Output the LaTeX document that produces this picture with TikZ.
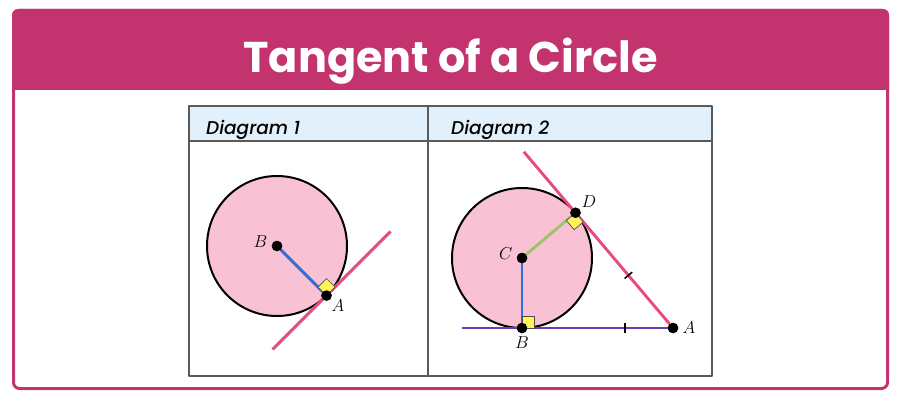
\documentclass[tikz,border=0pt]{standalone}
\usepackage{fontspec}
\usetikzlibrary{positioning,calc}

\newfontfamily\titlefont{Poppins}
\newfontfamily\headfont[ItalicFont={Poppins Medium Italic}]{Poppins}

\definecolor{framepink}{HTML}{C3346F}
\definecolor{tanpink}{HTML}{E84A7F}
\definecolor{discpink}{HTML}{F9C1D4}
\definecolor{radblue}{HTML}{2E6FD8}
\definecolor{radgreen}{HTML}{9DC46B}
\definecolor{basepurple}{HTML}{6A3DB5}
\definecolor{marker}{HTML}{FFF35C}
\definecolor{headblue}{HTML}{E1F0FB}
\definecolor{gridgray}{HTML}{5A5A5A}

\begin{document}
\begin{tikzpicture}
  [x=1pt, y=-1pt,
   line join=round,
   dot/.style={circle, fill=black, inner sep=0pt, minimum size=10.5pt},
   lbl/.style={inner sep=0pt, font=\fontsize{17}{19}\selectfont},
   head/.style={inner sep=0pt, font=\headfont\itshape\fontsize{18.5}{20}\selectfont},
   disc/.style={fill=discpink, draw=black, line width=2pt},
   tangent/.style={draw=tanpink, line width=2.9pt},
   radius/.style={line width=2.9pt},
   rightangle/.style={fill=marker, draw=black!70, line width=0.7pt},
   tick/.style={draw=black, line width=1.5pt}
  ]
  \useasboundingbox (0,0) rectangle (901,401);

  % frame and title
  \fill[framepink] (12,90) [rounded corners=6pt] -- (12,9) -- (889,9)
    [sharp corners] -- (889,90) -- cycle;
  \draw[framepink, line width=3pt, rounded corners=6pt] (13.5,10.5) rectangle (887.5,388.5);
  \node[text=white, anchor=base, inner sep=0pt,
        font=\titlefont\bfseries\fontsize{43}{45}\selectfont]
    (title) at (450.5,73) {Tangent of a Circle};

  % table
  \fill[headblue] (189,106) rectangle (712,141);
  \draw[gridgray, line width=1.3pt] (189,106) rectangle (712,376)
    (189,141) -- (712,141) (428,106) -- (428,376);
  \node[head, anchor=base west] (h1) at (206,134) {Diagram 1};
  \node[head, anchor=base west] (h2) at (451,134) {Diagram 2};

  % diagram 1
  \coordinate (O1) at (277,246);
  \path[disc] (O1) circle (70);
  \node[dot]      (B1) at (O1)                   {};
  \node[dot]      (A1) at ($(O1)+(49.5,49.5)$)   {};
  \coordinate     (T1a) at ($(A1)+(-54,54)$);
  \coordinate     (T1b) at ($(A1)+(64,-64)$);
  \path (T1a) edge [tangent] (T1b)
        (B1)  edge [radius, radblue] (A1);
  \path[rightangle] (A1.center) -- ++(-8.5,-8.5) -- ++(8.5,-8.5) -- ++(8.5,8.5) -- cycle;
  \node[dot] at (B1) {};
  \node[dot] at (A1) {};
  \node[lbl] (lB1) [left=4pt of B1, yshift=4pt] {$B$};
  \node[lbl] (lA1) [below right=0pt and 1pt of A1] {$A$};

  % diagram 2
  \coordinate (O2) at (522,258);
  \path[disc] (O2) circle (70);
  \node[dot]      (C2) at (O2)                    {};
  \node[dot]      (B2) at (522,328)               {};
  \node[dot]      (A2) at (673,328)               {};
  \node[dot]      (D2) at ($(O2)+(53.5,-45.2)$)   {};
  \coordinate     (T2) at ($(A2)!1.53!(D2)$);
  \coordinate     (L2) at (462,328);
  \path (L2) edge [radius, basepurple] (A2)
        (A2) edge [tangent] (T2)
        (C2) edge [radius, radblue] (B2)
        (C2) edge [radius, radgreen] (D2);
  \path[rightangle] (B2.center) -- ++(0,-12) -- ++(12,0) -- ++(0,12) -- cycle;
  \path[rightangle] (D2.center) -- ++(-9.2,7.7) -- ++(7.8,9.2) -- ++(9.2,-7.7) -- cycle;
  \coordinate (k1) at ($(A2)!48pt!(L2)$);
  \coordinate (k2) at ($(A2)!69pt!(D2)$);
  \draw[tick] (k1) ++(0,-5) -- ++(0,10);
  \draw[tick] ($(k2)!5pt!90:(A2)$) -- ($(k2)!5pt!-90:(A2)$);
  \node[dot] at (C2) {};
  \node[dot] at (B2) {};
  \node[dot] at (A2) {};
  \node[dot] at (D2) {};
  \node[lbl] (lC2) [left=4pt of C2, yshift=4pt]         {$C$};
  \node[lbl] (lD2) [above right=1pt and 2pt of D2]      {$D$};
  \node[lbl] (lB2) [below=3pt of B2]                    {$B$};
  \node[lbl] (lA2) [right=4pt of A2]                    {$A$};
\end{tikzpicture}
\end{document}
